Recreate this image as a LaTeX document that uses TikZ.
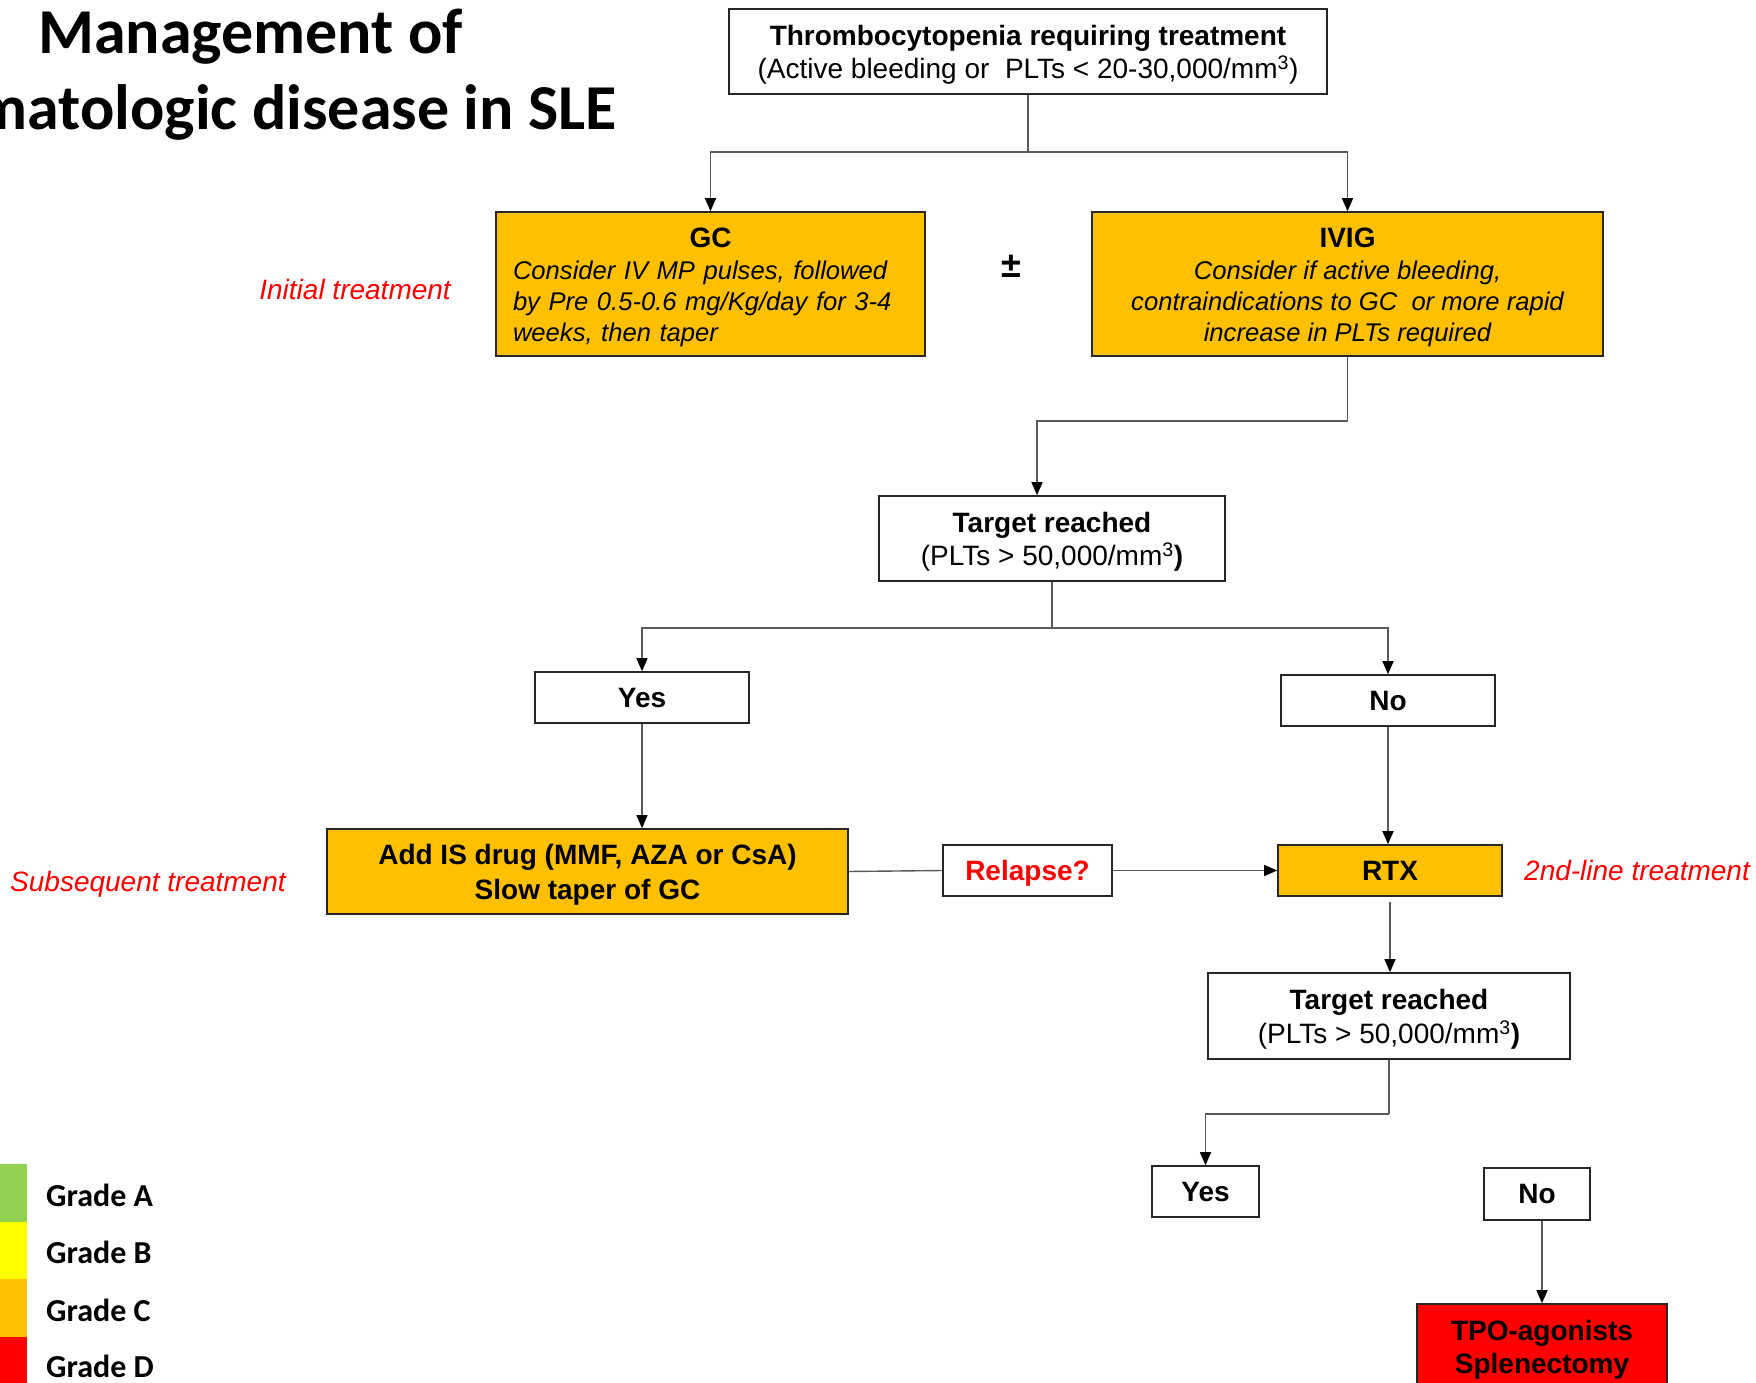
\documentclass[tikz,border=0pt]{standalone}
\usepackage{fontspec}
\setmainfont{Liberation Sans}
\newfontfamily\titlefont{Carlito}
\usetikzlibrary{arrows.meta}
\definecolor{gradeA}{HTML}{92D050}
\definecolor{gradeB}{HTML}{FFFF00}
\definecolor{gradeC}{HTML}{FFC000}
\definecolor{gradeD}{HTML}{FF0000}
\definecolor{linegray}{HTML}{5A5A5A}
\newcommand\topstrut{\rule{0pt}{27pt}}
\begin{document}
\begin{tikzpicture}[x=1pt,y=-1pt,
  box/.style={draw=black!85, line width=1.6pt, rectangle, inner sep=0pt, align=center, font=\fontsize{28}{33.6}\selectfont},
  gbox/.style={box, fill=gradeC},
  conn/.style={draw=linegray, line width=1.4pt},
  arr/.style={conn, -{Triangle[length=13pt,width=11pt,color=black]}},
  side/.style={text=red, font=\fontsize{28}{33}\selectfont\itshape, inner sep=0pt},
  grade/.style={font=\titlefont\bfseries\fontsize{32}{36}\selectfont, inner sep=0pt, anchor=base west},
  ttl/.style={font=\titlefont\bfseries\fontsize{64}{77}\selectfont, inner sep=0pt},
]
\useasboundingbox (0,0) rectangle (1756,1383);

% title
\node[ttl, anchor=base west] (title1) at (38,54) {Management of};
\node[ttl, anchor=base east] (title2) at (617,130) {Hematologic disease in SLE};

% boxes
\node[box, minimum width=598pt, minimum height=85pt, font=\fontsize{28}{32.5}\selectfont] (top) at (1028,51.5)
  {\topstrut\textbf{Thrombocytopenia requiring treatment}\\(Active bleeding or\ \ PLTs < 20-30,000/mm\textsuperscript{3})};

\node[gbox, minimum width=429pt, minimum height=144pt, text width=395pt, align=left, font=\fontsize{25.6}{31.4}\selectfont] (gc) at (710.5,284)
  {\hfill{\fontsize{28}{31.4}\selectfont\bfseries\topstrut GC}\hfill\null\\
   \itshape Consider IV MP pulses, followed\\
   \itshape by Pre 0.5-0.6 mg/Kg/day for 3-4\\
   \itshape weeks, then taper};

\node[gbox, minimum width=511pt, minimum height=144pt, font=\fontsize{25.6}{31.4}\selectfont] (ivig) at (1347.5,284)
  {{\fontsize{28}{31.4}\selectfont\bfseries\topstrut IVIG}\\
   \itshape Consider if active bleeding,\\
   \itshape contraindications to GC\ \ or more rapid\\
   \itshape increase in PLTs required};

\node[font=\bfseries\fontsize{36}{36}\selectfont, inner sep=0pt] (pm) at (1011,266) {±};

\node[side, anchor=east] (initial) at (451,289) {Initial treatment};

\node[box, minimum width=346pt, minimum height=85pt] (t1) at (1052,538.5)
  {\topstrut\textbf{Target reached}\\(PLTs > 50,000/mm\textsuperscript{3}\textbf{)}};

\node[box, minimum width=214pt, minimum height=51pt] (yes1) at (642,697.5) {\textbf{Yes}};
\node[box, minimum width=214pt, minimum height=51pt] (no1) at (1388,700.5) {\textbf{No}};

\node[gbox, minimum width=521pt, minimum height=85pt, font=\fontsize{28}{34.5}\selectfont\bfseries] (addis) at (587.5,871.5)
  {\topstrut Add IS drug (MMF, AZA or CsA)\\Slow taper of GC};
\node[side, anchor=west] (subseq) at (10,884) {Subsequent treatment};

\node[box, minimum width=169pt, minimum height=51pt, text=red, text depth=1pt, font=\fontsize{28}{33}\selectfont\bfseries] (relapse) at (1027.5,870.5) {Relapse?};
\node[gbox, minimum width=224pt, minimum height=51pt] (rtx) at (1390,870.5) {\textbf{RTX}};
\node[side, anchor=west] (second) at (1524,870) {2nd-line treatment};

\node[box, minimum width=362pt, minimum height=86pt] (t2) at (1389,1016)
  {\topstrut\textbf{Target reached}\\(PLTs > 50,000/mm\textsuperscript{3}\textbf{)}};

\node[box, minimum width=107pt, minimum height=51pt] (yes2) at (1205.5,1191.5) {\textbf{Yes}};
\node[box, minimum width=106pt, minimum height=52pt] (no2) at (1537,1194) {\textbf{No}};

\node[box, fill=gradeD, minimum width=250pt, minimum height=85pt, font=\fontsize{28}{33.6}\selectfont\bfseries] (tpo) at (1542,1346.5)
  {\topstrut TPO-agonists\\Splenectomy};

% connectors
\coordinate (j1) at (1028,152);
\draw[conn] (top.south) -- (j1);
\draw[arr] (j1) -| (gc.north);
\draw[arr] (j1) -| (ivig.north);

\coordinate (j2) at (1347.5,421);
\coordinate (j3) at (1037,421);
\draw[arr] (ivig.south) -- (j2) -- (j3) -- (j3 |- t1.north);

\coordinate (j4) at (1052,628);
\draw[conn] (t1.south) -- (j4);
\draw[arr] (j4) -| (yes1.north);
\draw[arr] (j4) -| (no1.north);

\draw[arr] (yes1.south) -- (yes1.south |- addis.north);
\draw[arr] (no1.south) -- (no1.south |- rtx.north);
\draw[conn] (addis.east) -- (relapse.west);
\draw[arr] (relapse.east) -- (rtx.west);
\draw[arr, shorten <=5pt] (rtx.south) -- (rtx.south |- t2.north);

\coordinate (j5) at (1389,1114);
\draw[conn] (t2.south) -- (j5);
\draw[arr] (j5) -| (yes2.north);
\draw[arr] (tpo.north |- no2.south) -- (tpo.north);

% legend
\fill[gradeA] (0,1164) rectangle (27,1222);
\fill[gradeB] (0,1222) rectangle (27,1279);
\fill[gradeC] (0,1279) rectangle (27,1337);
\fill[gradeD] (0,1337) rectangle (27,1383);
\node[grade] (ga) at (46,1206) {Grade A};
\node[grade] (gb) at (46,1263) {Grade B};
\node[grade] (gc2) at (46,1321) {Grade C};
\node[grade] (gd) at (46,1377) {Grade D};
\end{tikzpicture}
\end{document}
